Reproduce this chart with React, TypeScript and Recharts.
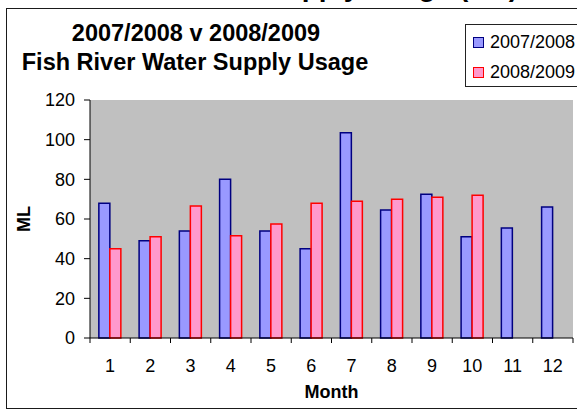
import { Bar, BarChart, CartesianGrid, Legend, XAxis, YAxis } from "recharts";

const months = ["1", "2", "3", "4", "5", "6", "7", "8", "9", "10", "11", "12"];
const usage0708 = [68, 49, 54, 80, 54, 45, 103.5, 64.5, 72.5, 51, 55.5, 66];
const usage0809: (number | null)[] = [45, 51, 66.5, 51.5, 57.5, 68, 69, 70, 71, 72, null, null];
const yTicks = [0, 20, 40, 60, 80, 100, 120];

const data = months.map((m, i) => ({ month: m, a: usage0708[i], b: usage0809[i] }));

const W = 577;
const H = 410;
const LEFT = 90;
const RIGHT = 4;
const TOP = 100;
const XAXIS_H = 72;
const PLOT_W = W - LEFT - RIGHT;
const TICK_SIZE = 5;
const TICK_MARGIN = 16;
const FONT = "'Liberation Sans', Arial, sans-serif";

function MonthTick(props: any) {
  const { x, y, payload, index } = props;
  const bw = PLOT_W / months.length;
  const axisY = y - TICK_SIZE - TICK_MARGIN;
  return (
    <g>
      <line x1={x - bw / 2} x2={x - bw / 2} y1={axisY} y2={axisY + TICK_SIZE} stroke="#000" />
      {index === months.length - 1 && (
        <line x1={x + bw / 2} x2={x + bw / 2} y1={axisY} y2={axisY + TICK_SIZE} stroke="#000" />
      )}
      <text x={x} y={y} dy="0.71em" textAnchor="middle" fontSize={18} fontFamily={FONT} fill="#000">
        {payload.value}
      </text>
    </g>
  );
}

function LegendBox({ payload }: any) {
  return (
    <div
      style={{
        width: 140,
        height: 63,
        border: "1px solid #222",
        background: "#fff",
        fontFamily: FONT,
        fontSize: 18,
        boxSizing: "border-box",
        paddingTop: 2,
      }}
    >
      {(payload || []).map((p: any) => (
        <div key={p.value} style={{ display: "flex", alignItems: "center", height: 30 }}>
          <span
            style={{
              display: "inline-block",
              width: 11,
              height: 11,
              marginLeft: 7,
              marginRight: 6,
              background: p.payload.fill,
              border: `1.5px solid ${p.payload.stroke}`,
              boxSizing: "border-box",
            }}
          />
          <span>{p.value}</span>
        </div>
      ))}
    </div>
  );
}

export default function App() {
  return (
    <div style={{ position: "absolute", left: 0, top: 0, width: W, height: H, overflow: "hidden", background: "#fff" }}>
      <svg width={W} height={H} style={{ position: "absolute", left: 0, top: 0 }}>
        {/* page heading above the chart, only its descenders show */}
        <text x={518} y={-4.5} textAnchor="end" fontSize={28} fontWeight="bold" fontFamily={FONT}>
          Fish River Water Supply Usage (ML)
        </text>
        <rect x={6.5} y={8.5} width={620} height={400} fill="none" stroke="#1a1a1a" strokeWidth={1} />
        <text x={196} y={41} textAnchor="middle" fontSize={23.5} fontWeight="bold" fontFamily={FONT}>
          2007/2008 v 2008/2009
        </text>
        <text x={195} y={70} textAnchor="middle" fontSize={23.5} fontWeight="bold" fontFamily={FONT}>
          Fish River Water Supply Usage
        </text>
      </svg>
      <div style={{ position: "absolute", left: 0, top: 0 }}>
        <BarChart
          width={W}
          height={H}
          data={data}
          margin={{ top: TOP, right: RIGHT, left: 0, bottom: 0 }}
          barCategoryGap="22%"
          barGap={0}
        >
          <CartesianGrid fill="#C0C0C0" horizontal={false} vertical={false} />
          <XAxis
            dataKey="month"
            height={XAXIS_H}
            interval={0}
            tickSize={TICK_SIZE}
            tickMargin={TICK_MARGIN}
            tickLine={false}
            axisLine={{ stroke: "#000" }}
            tick={<MonthTick />}
            label={{
              value: "Month",
              position: "insideBottom",
              offset: 12,
              fontSize: 18,
              fontWeight: "bold",
              fontFamily: FONT,
              fill: "#000",
            }}
          />
          <XAxis xAxisId="top" orientation="top" height={0} tick={false} tickLine={false} axisLine={{ stroke: "#808080" }} />
          <YAxis
            width={LEFT}
            domain={[0, 120]}
            ticks={yTicks}
            interval={0}
            tickSize={6}
            tickMargin={9}
            tick={{ fontSize: 18, fontFamily: FONT, fill: "#000" }}
            tickLine={{ stroke: "#000" }}
            axisLine={{ stroke: "#000" }}
            label={{
              content: ({ viewBox }: any) => (
                <text
                  x={viewBox.x + 23.5}
                  y={viewBox.y + viewBox.height / 2}
                  transform={`rotate(-90 ${viewBox.x + 23.5} ${viewBox.y + viewBox.height / 2})`}
                  textAnchor="middle"
                  dominantBaseline="central"
                  fontSize={18}
                  fontWeight="bold"
                  fontFamily={FONT}
                  fill="#000"
                >
                  ML
                </text>
              ),
            }}
          />
          <YAxis yAxisId="right" orientation="right" width={0} tick={false} tickLine={false} axisLine={{ stroke: "#808080" }} />
          <Legend
            layout="horizontal"
            verticalAlign="middle"
            align="center"
            wrapperStyle={{ top: 24, left: 465, width: 140 }}
            content={<LegendBox />}
          />
          <Bar dataKey="a" name="2007/2008" fill="#9999FF" stroke="#000080" strokeWidth={1.5} isAnimationActive={false} />
          <Bar dataKey="b" name="2008/2009" fill="#FF99CC" stroke="#FF0000" strokeWidth={1.5} isAnimationActive={false} />
        </BarChart>
      </div>
    </div>
  );
}
